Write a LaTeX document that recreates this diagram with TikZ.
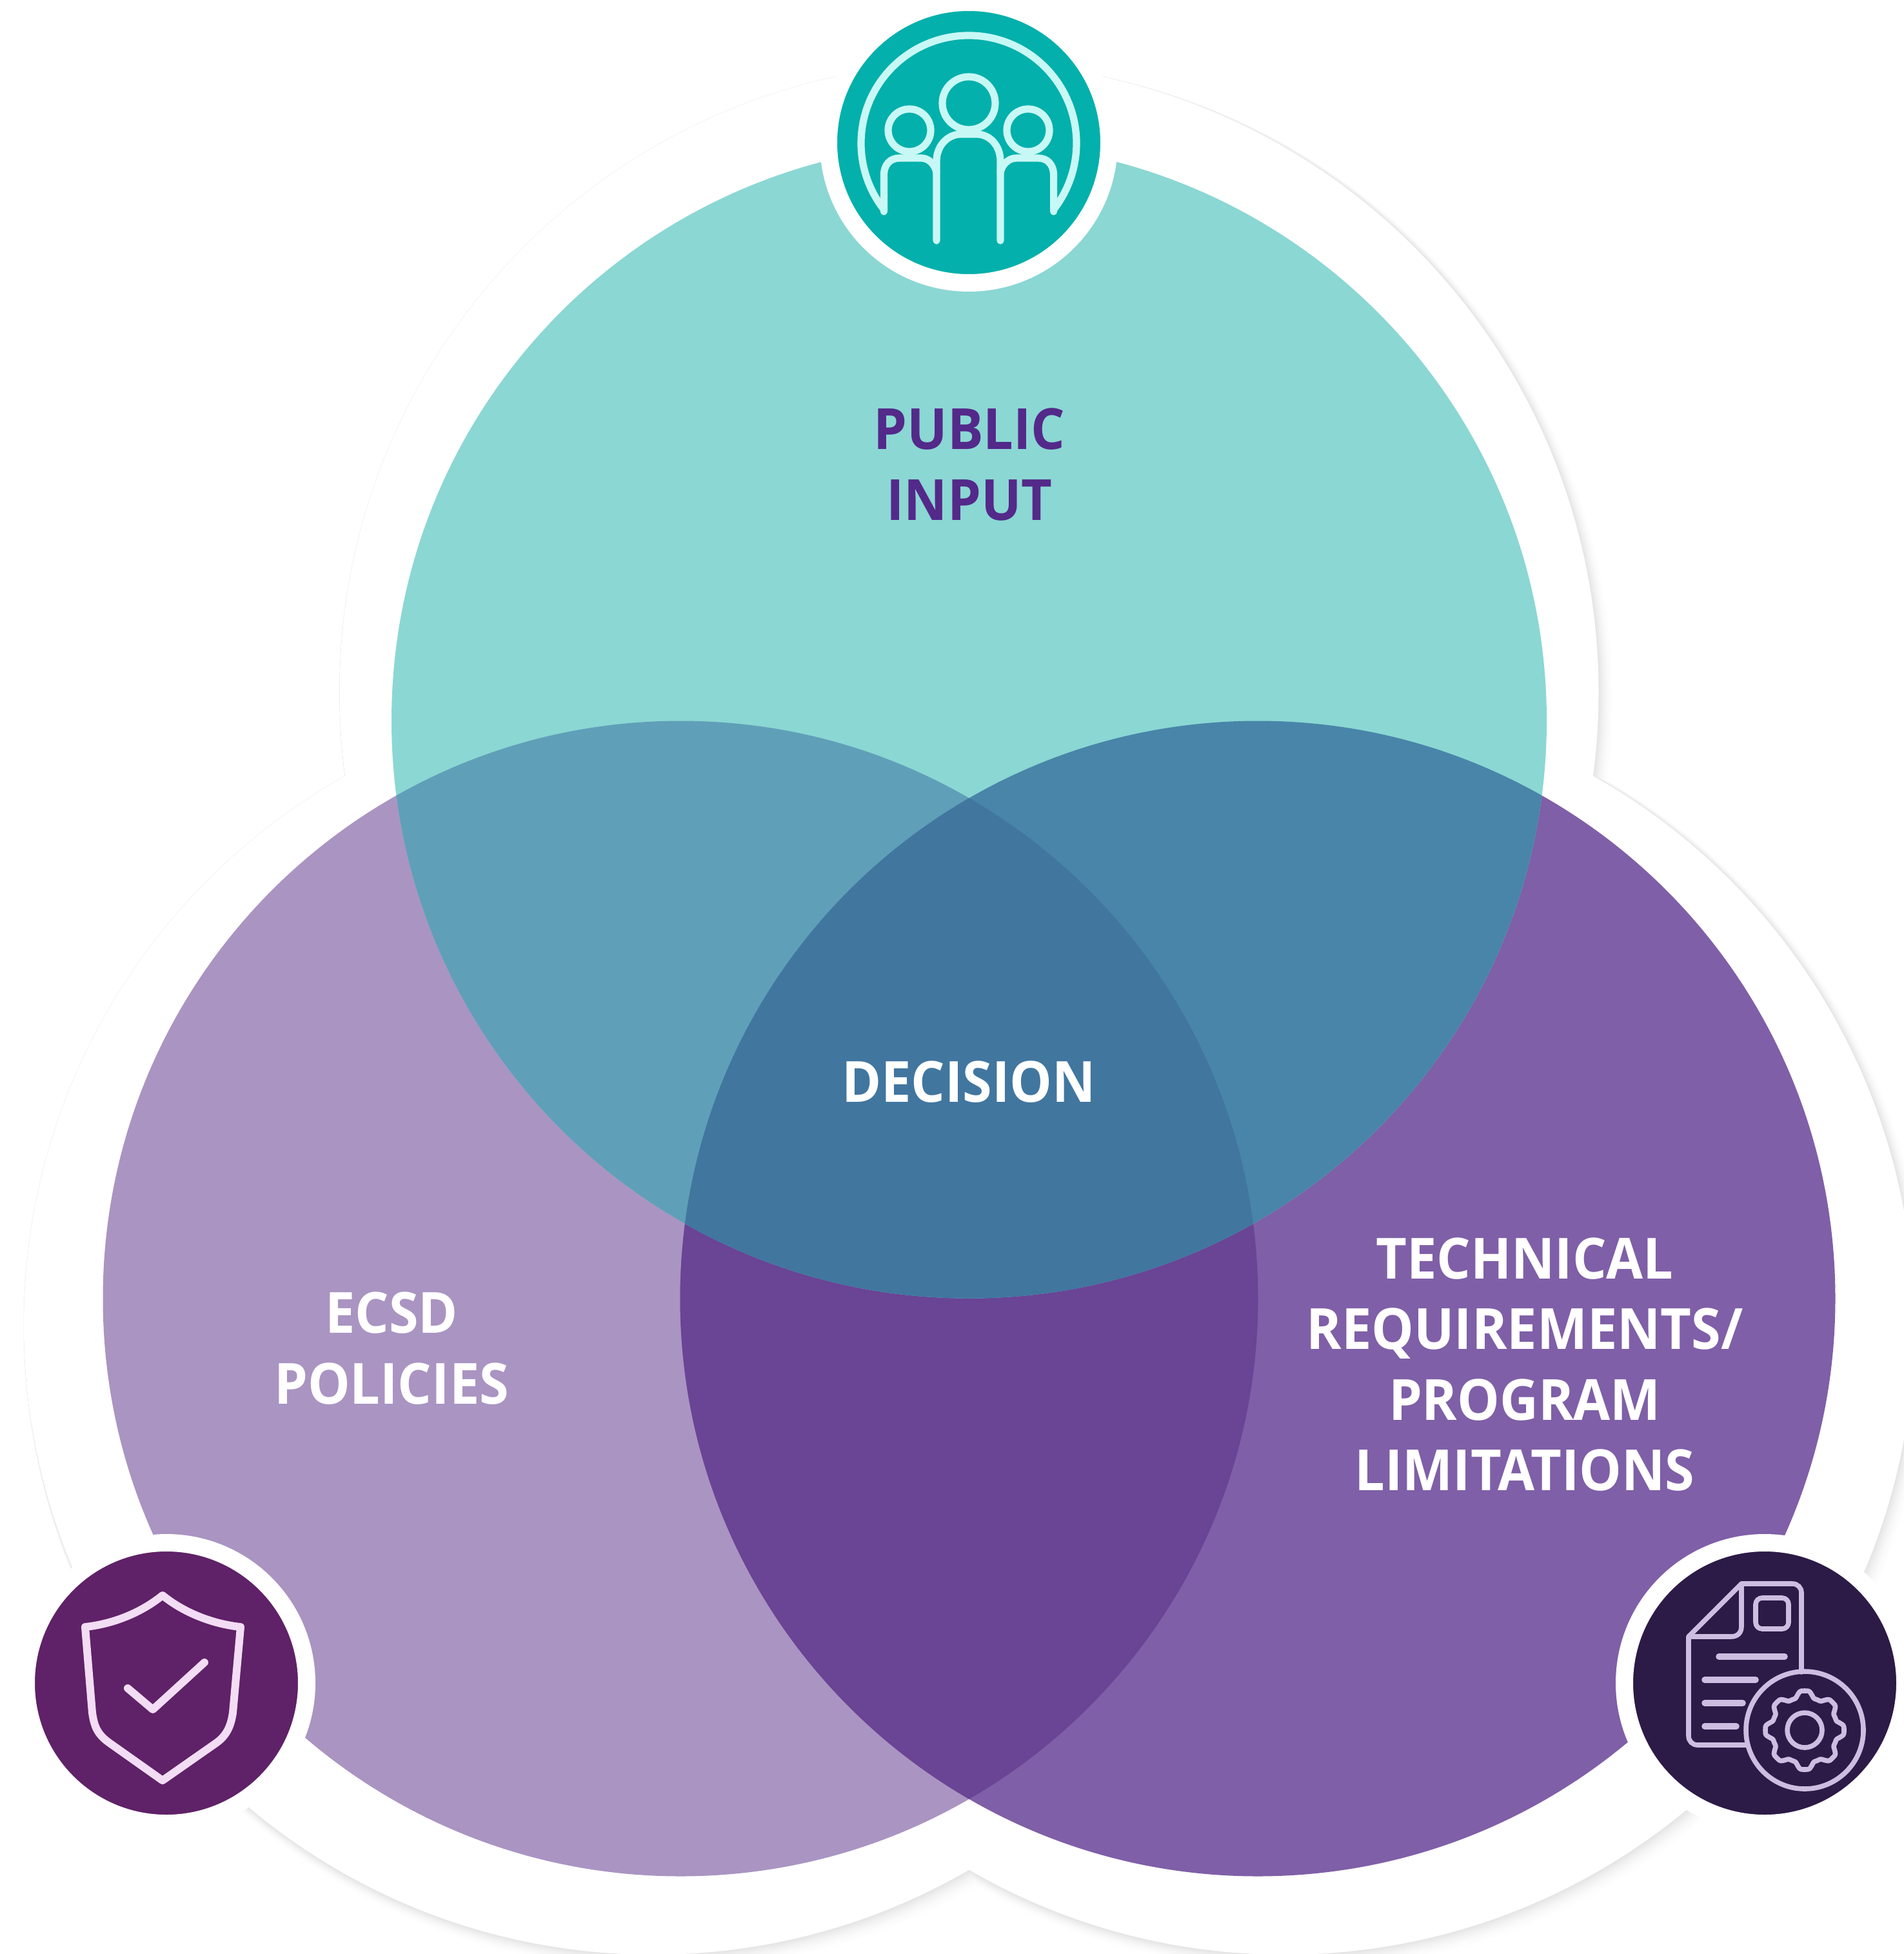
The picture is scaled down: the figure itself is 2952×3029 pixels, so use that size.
\documentclass[tikz,border=0pt]{standalone}
\usepackage{fontspec}
\setmainfont{Open Sans}[FakeStretch=0.94]
\definecolor{cTop}{HTML}{8BD7D3}
\definecolor{cLeft}{HTML}{AA94C2}
\definecolor{cRight}{HTML}{7F5FA7}
\definecolor{cTL}{HTML}{609FB8}
\definecolor{cTR}{HTML}{4885A9}
\definecolor{cAll}{HTML}{41769F}
\definecolor{cLR}{HTML}{6A4495}
\definecolor{cPub}{HTML}{03B0AB}
\definecolor{cEcsd}{HTML}{5F2167}
\definecolor{cTech}{HTML}{2C1A47}
\definecolor{iPub}{HTML}{C8F8F5}
\definecolor{iEcsd}{HTML}{F3DDF5}
\definecolor{iTech}{HTML}{CDBDE0}
\definecolor{cText}{HTML}{53298A}
\definecolor{cFaint}{HTML}{F8F8F8}
\tikzset{
  disc/.style={circle,draw=white,line width=6.75pt,minimum size=108.75pt,inner sep=0pt,outer sep=0pt},
  label/.style={align=center,inner sep=0pt,outer sep=0pt,font=\fontsize{22}{27.4}\selectfont\bfseries},
  iconline/.style={line cap=round,line join=round},
}
\newcommand{\TopC}{(1502.5,1117) circle[radius=895.5]}
\newcommand{\LeftC}{(1055,2013) circle[radius=895.5]}
\newcommand{\RightC}{(1950,2013) circle[radius=895.5]}
\begin{document}
\begin{tikzpicture}[x=0.25pt,y=-0.25pt]
\useasboundingbox (0,0) rectangle (2952,3029);
\clip (0,0) rectangle (2952,3029);
% faint rim of the halo
\fill[cFaint] (1502.5,1073) circle[radius=977] (1013,2054) circle[radius=977] (1992,2054) circle[radius=977];
% soft shadow of the white halo
\foreach \k in {30,29,...,0}{
  \pgfmathsetmacro{\t}{\k/30}
  \pgfmathsetmacro{\g}{100-11*(1-\t)*(1-\t)}
  \pgfmathsetmacro{\ox}{14*\t}
  \pgfmathsetmacro{\oy}{16*\t}
  \pgfmathsetmacro{\rr}{976+12*\t}
  \fill[fill=white!\g!black]
    (1502.5+\ox,1073+\oy) circle[radius=\rr]
    (1013+\ox,2054+\oy) circle[radius=\rr]
    (1992+\ox,2054+\oy) circle[radius=\rr];
}
% white halo
\fill[white] (1502.5,1073) circle[radius=976] (1013,2054) circle[radius=976] (1992,2054) circle[radius=976];
% Venn circles
\fill[cLeft] \LeftC;
\fill[cRight] \RightC;
\begin{scope}\clip \LeftC; \fill[cLR] \RightC; \end{scope}
\fill[cTop] \TopC;
\begin{scope}\clip \TopC; \fill[cTL] \LeftC; \fill[cTR] \RightC;
  \clip \LeftC; \fill[cAll] \RightC; \end{scope}
% labels
\node[label,text=cText,anchor=center] (public) at (1503,720) {PUBLIC\\INPUT};
\node[label,text=white,anchor=center] (decision) at (1502,1677) {DECISION};
\node[label,text=white,anchor=center] (ecsd) at (607,2090) {ECSD\\POLICIES};
\node[label,text=white,anchor=center] (tech) at (2364,2115) {TECHNICAL\\REQUIREMENTS/\\PROGRAM\\LIMITATIONS};
% discs
\node[disc,fill=cPub] (pubdisc) at (1502,221) {};
\node[disc,fill=cEcsd] (ecsddisc) at (258,2609) {};
\node[disc,fill=cTech] (techdisc) at (2736,2609) {};
% people icon
\begin{scope}[iconline,draw=iPub,line width=2.8pt]
\draw (1370.4,324.8) arc[start angle=142,end angle=398,radius=167];
\draw (1502,160) circle[radius=41];
\draw (1410,202) circle[radius=33];
\draw (1594,202) circle[radius=33];
\draw (1452,373) -- (1452,250) .. controls (1452,225) and (1470,208) .. (1490,208) -- (1514,208) .. controls (1534,208) and (1551,225) .. (1551,250) -- (1551,373);
\draw (1370.4,328) -- (1370.4,272) .. controls (1370.4,255) and (1380,245) .. (1395,245) -- (1428,245) .. controls (1440,245) and (1450,255) .. (1452,268);
\draw (1633.6,328) -- (1633.6,272) .. controls (1633.6,255) and (1624,245) .. (1609,245) -- (1576,245) .. controls (1564,245) and (1553,255) .. (1551,268);
\end{scope}
% shield icon
\begin{scope}[iconline,draw=iEcsd,line width=3pt]
\draw (252,2473) .. controls (215,2503) and (170,2518) .. (132,2522) -- (143,2655)
  .. controls (146,2675) and (150,2688) .. (170,2702) -- (252,2760) -- (335,2702)
  .. controls (352,2690) and (358,2675) .. (361,2655) -- (373,2522)
  .. controls (335,2518) and (289,2503) .. (252,2473) -- cycle;
\draw (198,2617) -- (237,2650) -- (317,2577);
\end{scope}
% document and gear icon
\begin{scope}[iconline,draw=iTech,line width=1.9pt]
\draw (2710,2705) -- (2632,2705) .. controls (2624,2705) and (2618,2699) .. (2618,2691) -- (2618,2537) -- (2700,2455) -- (2779,2455) .. controls (2787,2455) and (2793,2461) .. (2793,2469) -- (2793,2592);
\draw (2618,2537) -- (2684,2537) .. controls (2694,2537) and (2700,2531) .. (2700,2521) -- (2700,2455);
\draw[rounded corners=2.5pt] (2722,2477) rectangle (2773,2525);
\draw[line width=2.4pt] (2665,2568) -- (2767,2568);
\draw[line width=2.4pt] (2643,2604) -- (2722,2604);
\draw[line width=2.4pt] (2643,2640) -- (2702,2640);
\draw[line width=2.4pt] (2643,2676) -- (2692,2676);
\draw (2798,2682) circle[radius=91];
\draw (2798,2682) circle[radius=27];
\draw plot[domain=0:360,samples=145,variable=\a,smooth] ({2798+(56+5*max(-1,min(1,1.6*cos(8*\a))))*cos(\a)},{2682+(56+5*max(-1,min(1,1.6*cos(8*\a))))*sin(\a)}) -- cycle;
\end{scope}
\end{tikzpicture}
\end{document}
